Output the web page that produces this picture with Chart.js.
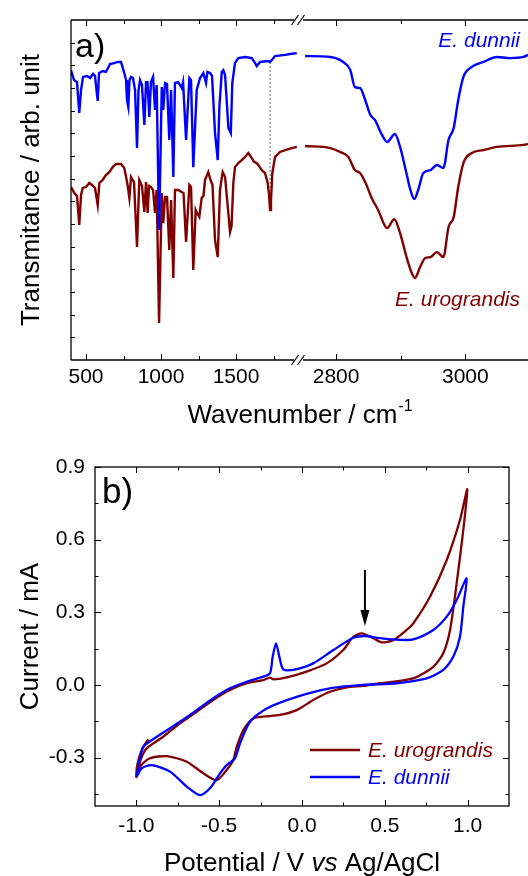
<!DOCTYPE html>
<html>
<head>
<meta charset="utf-8">
<script src="https://cdn.jsdelivr.net/npm/chart.js@4.4.1/dist/chart.umd.min.js"></script>
<style>
  html, body { margin: 0; padding: 0; background: #fff; }
  #wrap { position: relative; width: 528px; height: 876px; overflow: hidden; }
  canvas { position: absolute; left: 0; }
  #ftir { top: 0; }
  #cv { top: 430px; }
</style>
</head>
<body>
<div id="wrap">
  <canvas id="ftir" width="528" height="430"></canvas>
  <canvas id="cv" width="528" height="446"></canvas>
</div>
<script>
const BLUE = "#0000ff";
const RED = "#800000";
const FONT = '"Liberation Sans", Arial, sans-serif';

// ---- a) FTIR spectra, wavenumber (cm-1) / transmittance (arb.) ----
const dunLoWn = [400, 420, 440, 455, 467, 480, 507, 527, 547, 560, 578, 587, 613, 633, 647, 660, 687, 713, 733, 740,
  755, 767, 773, 782, 790, 800, 813, 827, 840, 850, 860, 873, 889, 900, 910, 922, 933, 947, 960, 971,
  987, 1005, 1015, 1027, 1040, 1055, 1067, 1082, 1093, 1115, 1138, 1147, 1167, 1189, 1200, 1215, 1238, 1260, 1282, 1300,
  1309, 1327, 1340, 1360, 1378, 1389, 1405, 1415, 1427, 1449, 1465, 1475, 1493, 1515, 1560, 1605, 1627, 1638, 1660, 1715,
  1727, 1760, 1827, 1860, 1905];
const dunLoT = [12.79, 12.35, 12.26, 10.90, 11.91, 12.49, 12.53, 12.44, 12.62, 12.53, 11.43, 12.66, 12.75, 12.71, 12.88, 13.06, 13.10, 13.15, 13.15, 13.01,
  12.66, 12.35, 11.47, 11.16, 12.35, 12.49, 12.44, 11.91, 9.35, 11.91, 12.35, 12.13, 10.37, 12.26, 12.26, 10.72, 12.26, 12.49, 11.03, 12.13,
  5.74, 12.04, 11.03, 12.22, 12.18, 9.71, 11.91, 8.07, 12.22, 12.26, 12.00, 12.26, 9.71, 12.44, 12.35, 8.51, 11.91, 12.44, 12.66, 12.22,
  12.71, 12.66, 12.53, 10.01, 8.82, 11.16, 12.71, 12.79, 12.57, 10.24, 10.01, 12.22, 13.10, 13.32, 13.37, 13.32, 13.10, 12.97, 13.15, 13.19,
  13.15, 13.41, 13.46, 13.50, 13.54];

const uroLoWn = [400, 422, 440, 455, 467, 478, 500, 522, 540, 560, 578, 589, 611, 633, 655, 678, 700, 733, 755, 767,
  777, 789, 800, 820, 840, 855, 873, 889, 900, 911, 920, 933, 947, 960, 971, 987, 1005, 1015, 1027, 1040,
  1055, 1067, 1082, 1093, 1115, 1138, 1150, 1167, 1189, 1200, 1215, 1231, 1243, 1255, 1271, 1283, 1293, 1315, 1330, 1343,
  1360, 1378, 1393, 1411, 1427, 1445, 1460, 1470, 1482, 1493, 1515, 1538, 1560, 1582, 1605, 1620, 1638, 1653, 1671, 1693,
  1711, 1720, 1727, 1733, 1742, 1760, 1793, 1827, 1871, 1905];
const uroLoT = [7.63, 7.37, 7.24, 5.96, 7.28, 7.59, 7.63, 7.81, 7.72, 7.59, 6.84, 7.81, 7.94, 8.16, 8.29, 8.51, 8.65, 8.65, 8.47, 8.07,
  7.72, 7.15, 8.07, 7.85, 4.99, 7.94, 7.68, 6.53, 7.85, 6.49, 7.68, 7.63, 7.50, 6.49, 7.50, 1.63, 7.37, 6.04, 7.19, 7.19,
  4.85, 7.06, 3.62, 7.50, 7.50, 7.41, 7.37, 5.21, 7.72, 7.63, 3.97, 6.62, 6.44, 6.31, 7.15, 7.24, 7.94, 8.29, 7.94, 7.72,
  5.29, 4.54, 7.50, 8.29, 8.07, 6.75, 5.65, 5.91, 7.81, 8.51, 8.69, 8.82, 8.96, 9.13, 8.91, 8.74, 8.69, 8.56, 8.38, 8.25,
  7.81, 7.28, 6.62, 7.06, 8.25, 8.96, 9.18, 9.26, 9.35, 9.40];

const dunHiWn = [2752, 2791, 2811, 2822, 2829, 2837, 2845, 2853, 2860, 2871, 2879, 2891, 2899, 2907, 2915, 2921,
  2927, 2935, 2946, 2956, 2966, 2974, 2982, 2989, 2997, 3010, 3028, 3049, 3069, 3090, 3097];
const dunHiT = [13.41, 13.37, 13.15, 12.79, 12.04, 12.00, 11.47, 10.81, 10.59, 9.93, 9.62, 9.97, 9.40, 8.47, 7.50, 7.10,
  7.50, 8.25, 8.38, 8.60, 8.47, 9.71, 10.24, 11.47, 12.49, 12.93, 13.15, 13.37, 13.32, 13.37, 13.46];

const uroHiWn = [2752, 2791, 2806, 2819, 2829, 2837, 2845, 2855, 2865, 2879, 2890, 2899, 2909, 2917, 2922,
  2930, 2938, 2946, 2956, 2966, 2974, 2982, 2989, 2997, 3010, 3028, 3049, 3090, 3097];
const uroHiT = [9.44, 9.35, 9.18, 8.96, 8.38, 8.25, 7.85, 7.15, 6.62, 5.82, 6.21, 5.60, 4.54, 3.84, 3.62,
  4.10, 4.50, 4.54, 4.76, 4.54, 5.87, 6.31, 7.63, 8.69, 9.13, 9.26, 9.40, 9.49, 9.53];

const irDotWn = 1727;
const irDotT = [13.15, 7.3];

const irLoTicks = [500, 1000, 1500];
const irLoMinor = [750, 1250, 1750];
const irHiTicks = [2800, 3000];
const irHiMinor = [2900];
const irYMinor = [1, 2, 3, 4, 5, 6, 7, 8, 9, 10, 11, 12, 13, 14];

// ---- b) cyclic voltammograms, potential (V) / current (mA) ----
const cvUroE = [-0.928, -0.958, -0.982, -0.998, -1.0, -0.975, -0.938, -0.838, -0.737, -0.636, -0.536, -0.435, -0.334, -0.234,
  -0.193, -0.173, -0.092, 0.028, 0.149, 0.249, 0.310, 0.361, 0.431, 0.481, 0.551, 0.632, 0.672, 0.773, 0.874, 0.954, 0.998,
  0.974, 0.934, 0.894, 0.853, 0.793, 0.672, 0.471, 0.370, 0.270, 0.169, 0.068, -0.032, -0.133, -0.234, -0.294,
  -0.354, -0.394, -0.415, -0.455, -0.515, -0.596, -0.696, -0.817, -0.918, -0.978, -1.0];
const cvUroI = [-0.225, -0.255, -0.296, -0.344, -0.380, -0.310, -0.262, -0.214, -0.159, -0.111, -0.062, -0.021, 0.007, 0.020,
  0.030, 0.023, 0.031, 0.055, 0.089, 0.144, 0.199, 0.213, 0.193, 0.176, 0.185, 0.227, 0.254, 0.364, 0.516, 0.681, 0.808,
  0.640, 0.420, 0.227, 0.131, 0.075, 0.027, 0.007, -0.004, -0.010, -0.028, -0.062, -0.104, -0.124, -0.131, -0.138,
  -0.186, -0.255, -0.310, -0.351, -0.393, -0.365, -0.317, -0.294, -0.303, -0.338, -0.375];

const cvDunE = [-0.998, -0.978, -0.958, -0.877, -0.737, -0.636, -0.536, -0.435, -0.334, -0.234, -0.193, -0.177, -0.157, -0.137,
  -0.113, -0.053, 0.068, 0.189, 0.310, 0.380, 0.471, 0.592, 0.672, 0.793, 0.874, 0.934, 0.994,
  0.974, 0.954, 0.914, 0.853, 0.753, 0.572, 0.370, 0.169, -0.032, -0.213, -0.314, -0.374, -0.405, -0.455, -0.495,
  -0.556, -0.616, -0.696, -0.797, -0.908, -0.968, -0.998];
const cvDunI = [-0.379, -0.300, -0.255, -0.214, -0.152, -0.104, -0.055, -0.014, 0.013, 0.034, 0.048, 0.117, 0.172, 0.117,
  0.064, 0.062, 0.089, 0.144, 0.195, 0.202, 0.193, 0.186, 0.188, 0.227, 0.282, 0.351, 0.440,
  0.323, 0.199, 0.117, 0.062, 0.027, 0.007, 0.000, -0.014, -0.049, -0.097, -0.152, -0.241, -0.303, -0.331, -0.365,
  -0.427, -0.455, -0.420, -0.358, -0.331, -0.344, -0.379];

const cvXTicks = [-1.0, -0.5, 0.0, 0.5, 1.0];
const cvXMinor = [-0.75, -0.25, 0.25, 0.75];
const cvYTicks = [-0.3, 0.0, 0.3, 0.6, 0.9];
const cvYMinor = [-0.45, -0.15, 0.15, 0.45, 0.75];
const cvArrowE = 0.38;
const cvArrowI = [0.475, 0.243];

const pts = (xs, ys) => xs.map((x, i) => ({ x, y: ys[i] }));
const setTicks = vals => scale => { scale.ticks = vals.map(value => ({ value })); };
const noGrid = { display: false, drawTicks: false };

function tickFont() {
  return { family: FONT, size: 21 };
}

// ---------- panel a ----------
const ftirDecor = {
  id: "ftirDecor",
  afterDraw(chart) {
    const { ctx, chartArea: a, scales } = chart;
    const lo = scales.xLo, hi = scales.xHi, y = scales.y;
    const brk = lo.right;
    ctx.save();
    ctx.strokeStyle = "#000";
    ctx.lineWidth = 1.3;
    ctx.beginPath();
    ctx.moveTo(a.left, a.top);
    ctx.lineTo(a.left, a.bottom);
    for (const yy of [a.top, a.bottom]) {
      ctx.moveTo(a.left, yy);
      ctx.lineTo(brk - 4, yy);
      ctx.moveTo(brk + 5, yy);
      ctx.lineTo(a.right, yy);
    }
    ctx.stroke();

    ctx.lineWidth = 1;
    ctx.beginPath();
    const xt = (scale, vals, len) => vals.forEach(v => {
      const px = Math.round(scale.getPixelForValue(v)) + 0.5;
      ctx.moveTo(px, a.bottom);
      ctx.lineTo(px, a.bottom - len);
      ctx.moveTo(px, a.top);
      ctx.lineTo(px, a.top + len);
    });
    xt(lo, irLoTicks, 6);
    xt(lo, irLoMinor, 4);
    xt(hi, irHiTicks, 6);
    xt(hi, irHiMinor, 4);
    irYMinor.forEach(v => {
      const py = Math.round(y.getPixelForValue(v)) + 0.5;
      ctx.moveTo(a.left, py);
      ctx.lineTo(a.left + 4, py);
    });
    ctx.stroke();

    // axis break
    ctx.lineWidth = 1.2;
    ctx.beginPath();
    for (const yy of [a.top, a.bottom]) {
      for (const dx of [-3, 3]) {
        ctx.moveTo(brk + dx - 3.5, yy + 5);
        ctx.lineTo(brk + dx + 3.5, yy - 5);
      }
    }
    ctx.stroke();

    // sample labels
    ctx.font = "italic 21px " + FONT;
    ctx.textAlign = "right";
    ctx.textBaseline = "alphabetic";
    const ds = chart.data.datasets;
    ctx.fillStyle = ds[0].borderColor;
    ctx.fillText(ds[0].label, 520, 47);
    ctx.fillStyle = ds[2].borderColor;
    ctx.fillText(ds[2].label, 520, 306);

    // panel letter
    ctx.fillStyle = "#000";
    ctx.textAlign = "left";
    ctx.font = "34px " + FONT;
    ctx.fillText("a)", 75, 57);

    // x title with superscript
    const cx = (a.left + a.right) / 2;
    ctx.font = "26px " + FONT;
    const main = "Wavenumber / cm";
    const w1 = ctx.measureText(main).width;
    ctx.font = "16px " + FONT;
    const w2 = ctx.measureText("-1").width;
    const x0 = cx - (w1 + w2) / 2;
    ctx.font = "26px " + FONT;
    ctx.fillText(main, x0, 423);
    ctx.font = "16px " + FONT;
    ctx.fillText("-1", x0 + w1 + 1, 411);

    // y title
    ctx.translate(39, (a.top + a.bottom) / 2);
    ctx.rotate(-Math.PI / 2);
    ctx.textAlign = "center";
    ctx.font = "26px " + FONT;
    ctx.fillText("Transmitance / arb. unit", 0, 0);
    ctx.restore();
  }
};

const irLine = (label, color, axis, wn, t, order, smooth) => ({
  label, data: pts(wn, t), xAxisID: axis, yAxisID: "y",
  borderColor: color, borderWidth: 2.4, pointRadius: 0, order,
  tension: smooth ? 0.4 : 0, cubicInterpolationMode: smooth ? "monotone" : "default"
});

new Chart(document.getElementById("ftir"), {
  type: "line",
  data: {
    datasets: [
      irLine("E. dunnii", BLUE, "xLo", dunLoWn, dunLoT, 0, false),
      irLine("E. dunnii", BLUE, "xHi", dunHiWn, dunHiT, 0, true),
      irLine("E. urograndis", RED, "xLo", uroLoWn, uroLoT, 1, false),
      irLine("E. urograndis", RED, "xHi", uroHiWn, uroHiT, 1, true),
      {
        label: "C=O", data: irDotT.map(t => ({ x: irDotWn, y: t })), xAxisID: "xLo", yAxisID: "y",
        borderColor: "#888", borderWidth: 1.3, borderDash: [2, 2], pointRadius: 0, order: 2
      }
    ]
  },
  options: {
    responsive: false,
    animation: false,
    layout: { padding: { top: 20, right: 0, left: 0, bottom: 0 } },
    plugins: { legend: { display: false }, tooltip: { enabled: false } },
    scales: {
      xLo: {
        type: "linear", position: "bottom", stack: "ir", stackWeight: 227,
        min: 400, max: 1913,
        afterBuildTicks: setTicks(irLoTicks),
        afterFit: s => { s.height = 70; },
        grid: noGrid, border: { display: false },
        ticks: { font: tickFont(), color: "#000", padding: 5, maxRotation: 0, autoSkip: false, callback: v => String(v) }
      },
      xHi: {
        type: "linear", position: "bottom", stack: "ir", stackWeight: 230,
        min: 2741, max: 3097,
        afterBuildTicks: setTicks(irHiTicks),
        afterFit: s => { s.height = 70; },
        grid: noGrid, border: { display: false },
        ticks: { font: tickFont(), color: "#000", padding: 5, maxRotation: 0, autoSkip: false, callback: v => String(v) }
      },
      y: {
        type: "linear", position: "left", min: 0, max: 15,
        afterFit: s => { s.width = 71; },
        grid: noGrid, border: { display: false },
        ticks: { display: false }
      }
    }
  },
  plugins: [ftirDecor]
});

// ---------- panel b ----------
const cvDecor = {
  id: "cvDecor",
  afterDraw(chart) {
    const { ctx, chartArea: a, scales } = chart;
    const x = scales.x, y = scales.y;
    ctx.save();
    ctx.strokeStyle = "#000";
    ctx.lineWidth = 1.3;
    ctx.strokeRect(a.left, a.top, a.right - a.left, a.bottom - a.top);

    ctx.lineWidth = 1;
    ctx.beginPath();
    const xt = (vals, len) => vals.forEach(v => {
      const px = Math.round(x.getPixelForValue(v)) + 0.5;
      ctx.moveTo(px, a.bottom); ctx.lineTo(px, a.bottom - len);
      ctx.moveTo(px, a.top); ctx.lineTo(px, a.top + len);
    });
    const yt = (vals, len) => vals.forEach(v => {
      const py = Math.round(y.getPixelForValue(v)) + 0.5;
      ctx.moveTo(a.left, py); ctx.lineTo(a.left + len, py);
      ctx.moveTo(a.right, py); ctx.lineTo(a.right - len, py);
    });
    xt(cvXTicks, 6);
    xt(cvXMinor, 3.5);
    yt(cvYTicks, 6);
    yt(cvYMinor, 3.5);
    ctx.stroke();

    // arrow
    const ax = x.getPixelForValue(cvArrowE);
    const ay0 = y.getPixelForValue(cvArrowI[0]);
    const ay1 = y.getPixelForValue(cvArrowI[1]);
    ctx.lineWidth = 2;
    ctx.beginPath();
    ctx.moveTo(ax, ay0);
    ctx.lineTo(ax, ay1 - 12);
    ctx.stroke();
    ctx.fillStyle = "#000";
    ctx.beginPath();
    ctx.moveTo(ax, ay1);
    ctx.lineTo(ax - 4.5, ay1 - 16);
    ctx.lineTo(ax + 4.5, ay1 - 16);
    ctx.closePath();
    ctx.fill();

    // legend
    ctx.font = "italic 21px " + FONT;
    ctx.textAlign = "left";
    ctx.textBaseline = "alphabetic";
    const ds = chart.data.datasets;
    [[ds[0], 320], [ds[1], 347]].forEach(([d, yy]) => {
      ctx.strokeStyle = d.borderColor;
      ctx.lineWidth = 2.3;
      ctx.beginPath();
      ctx.moveTo(310, yy);
      ctx.lineTo(360, yy);
      ctx.stroke();
      ctx.fillStyle = d.borderColor;
      ctx.fillText(d.label, 368, yy + 7);
    });

    // panel letter
    ctx.fillStyle = "#000";
    ctx.font = "35px " + FONT;
    ctx.fillText("b)", 102, 73);

    // x title, "vs" in italics
    const cx = (a.left + a.right) / 2;
    const parts = [["Potential / V ", ""], ["vs", "italic "], [" Ag/AgCl", ""]];
    let total = 0;
    parts.forEach(p => { ctx.font = p[1] + "26px " + FONT; total += ctx.measureText(p[0]).width; });
    let px = cx - total / 2;
    parts.forEach(p => {
      ctx.font = p[1] + "26px " + FONT;
      ctx.fillText(p[0], px, 441);
      px += ctx.measureText(p[0]).width;
    });

    // y title
    ctx.translate(38, (a.top + a.bottom) / 2);
    ctx.rotate(-Math.PI / 2);
    ctx.textAlign = "center";
    ctx.font = "26px " + FONT;
    ctx.fillText("Current / mA", 0, 0);
    ctx.restore();
  }
};

new Chart(document.getElementById("cv"), {
  type: "scatter",
  data: {
    datasets: [
      { label: "E. urograndis", data: pts(cvUroE, cvUroI), borderColor: RED, showLine: true, borderWidth: 2.3, pointRadius: 0, tension: 0.25, order: 1 },
      { label: "E. dunnii", data: pts(cvDunE, cvDunI), borderColor: BLUE, showLine: true, borderWidth: 2.3, pointRadius: 0, tension: 0.25, order: 0 }
    ]
  },
  options: {
    responsive: false,
    animation: false,
    layout: { padding: { top: 37, right: 19, left: 0, bottom: 0 } },
    plugins: { legend: { display: false }, tooltip: { enabled: false } },
    scales: {
      x: {
        type: "linear", min: -1.25, max: 1.25,
        afterBuildTicks: setTicks(cvXTicks),
        afterFit: s => { s.height = 70; },
        grid: noGrid, border: { display: false },
        ticks: { font: tickFont(), color: "#000", padding: 8, maxRotation: 0, autoSkip: false, callback: v => v.toFixed(1) }
      },
      y: {
        type: "linear", min: -0.5, max: 0.9,
        afterBuildTicks: setTicks(cvYTicks),
        afterFit: s => { s.width = 95; },
        grid: noGrid, border: { display: false },
        ticks: { font: tickFont(), color: "#000", padding: 10, autoSkip: false, callback: v => (Math.abs(v) < 1e-9 ? 0 : v).toFixed(1) }
      }
    }
  },
  plugins: [cvDecor]
});
</script>
</body>
</html>
